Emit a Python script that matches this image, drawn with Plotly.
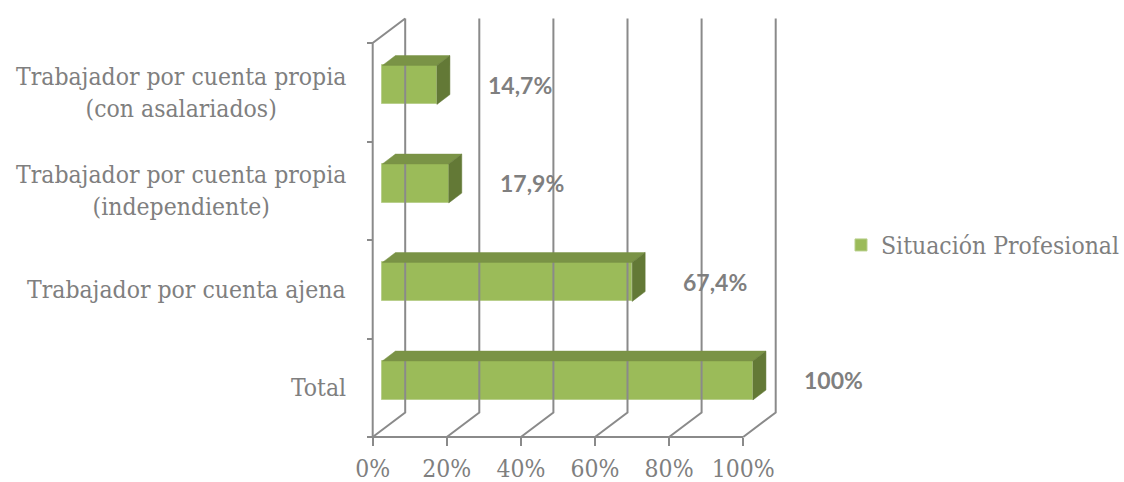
import plotly.graph_objects as go

# ---- data ----
categories = ["Total", "Trabajador por cuenta ajena",
              "Trabajador por cuenta propia<br>(independiente)",
              "Trabajador por cuenta propia<br>(con asalariados)"]
values = [100.0, 67.4, 17.9, 14.7]
value_labels = ["100%", "67,4%", "17,9%", "14,7%"]
series_name = "Situación Profesional"
x_ticks = [0, 20, 40, 60, 80, 100]
x_tick_labels = ["0%", "20%", "40%", "60%", "80%", "100%"]

# ---- geometry (pixel calibration of the pseudo-3D frame) ----
W, H = 1124, 482
X0, SX = 372.7, 3.705          # px of 0 %, px per %
YF, BAND = 437.0, 98.5         # px of front floor, px per category band
DX = 32.5 / SX                 # depth offset in x (data units)
DY = 24.5 / BAND               # depth offset in y (data units)
F1, F2 = 0.30, 0.70            # bar front / back depth fraction
HALF = 19.5 / BAND             # half bar height

xmin, xmax = -X0 / SX, (W - X0) / SX
ymin, ymax = (YF - H) / BAND - 0.5, YF / BAND - 0.5

GRID = "#8a8a8a"
TXT = "#7f7f7f"
FRONT, TOP, SIDE = "#9BBB59", "#7A9346", "#637936"
SERIF = "DejaVu Serif Condensed"
FS = 24.5

fig = go.Figure()

# walls / gridlines
gx, gy = [], []
y_floor = -0.5
y_top = len(categories) - 0.5
for v in x_ticks:
    gx += [v, v + DX, v + DX, None]
    gy += [y_floor, y_floor + DY, y_top + DY, None]
gx += [0, 100, None, 0, 0, DX, None]
gy += [y_floor, y_floor, None, y_floor, y_top, y_top + DY, None]
fig.add_trace(go.Scatter(x=gx, y=gy, mode="lines",
                         line=dict(color=GRID, width=2),
                         hoverinfo="skip", showlegend=False))

# bar top and side faces (derived from values)
d = F2 - F1
for i, v in enumerate(values):
    yc = i + F1 * DY
    yt, yb = yc + HALF, yc - HALF
    x1, x2 = F1 * DX, v + F1 * DX
    fig.add_trace(go.Scatter(
        x=[x1, x2, x2 + d * DX, x1 + d * DX, x1],
        y=[yt, yt, yt + d * DY, yt + d * DY, yt],
        fill="toself", fillcolor=TOP, mode="lines",
        line=dict(color=TOP, width=0.5), hoverinfo="skip", showlegend=False))
    fig.add_trace(go.Scatter(
        x=[x2, x2 + d * DX, x2 + d * DX, x2, x2],
        y=[yb, yb + d * DY, yt + d * DY, yt, yb],
        fill="toself", fillcolor=SIDE, mode="lines",
        line=dict(color=SIDE, width=0.5), hoverinfo="skip", showlegend=False))

# bar front faces
fig.add_trace(go.Bar(
    name=series_name, orientation="h",
    y=[i + F1 * DY for i in range(len(values))],
    x=values, base=F1 * DX, width=2 * HALF,
    marker=dict(color=FRONT, line=dict(color="#B9CF8C", width=1)),
    hoverinfo="skip", showlegend=True))

# data labels
for i, (v, lab) in enumerate(zip(values, value_labels)):
    fig.add_annotation(x=v + F1 * DX + 49 / SX, y=i + F1 * DY, text=lab,
                       xref="x", yref="y", xanchor="left", yanchor="middle",
                       showarrow=False,
                       font=dict(family="Lato", size=23, color=TXT, weight="bold"))

# category labels
for i, c in enumerate(categories):
    fig.add_annotation(x=348 / W, xref="paper", y=i, yref="y", text=c,
                       xanchor="right", yanchor="middle", align="center",
                       showarrow=False,
                       font=dict(family=SERIF, size=FS, color=TXT))

fig.update_layout(
    width=W, height=H, margin=dict(l=0, r=0, t=0, b=0, autoexpand=False),
    paper_bgcolor="white", plot_bgcolor="white",
    bargap=0, barmode="overlay",
    xaxis=dict(range=[xmin, xmax], domain=[0, 1], anchor="free",
               position=1 - YF / H, tickvals=x_ticks, ticktext=x_tick_labels,
               ticks="outside", ticklen=8, tickwidth=2, tickcolor=GRID,
               ticklabelstandoff=2, automargin=False,
               showgrid=False, zeroline=False, showline=False,
               tickfont=dict(family=SERIF, size=FS, color=TXT),
               fixedrange=True),
    yaxis=dict(range=[ymin, ymax], domain=[0, 1], anchor="free",
               position=X0 / W, automargin=False,
               tickvals=[k - 0.5 for k in range(len(categories) + 1)],
               ticks="outside", ticklen=6, tickwidth=2, tickcolor=GRID,
               showticklabels=False, showgrid=False, zeroline=False,
               showline=False, fixedrange=True),
    legend=dict(x=841 / W, xanchor="left", y=1 - 245 / H, yanchor="middle",
                font=dict(family=SERIF, size=FS, color=TXT),
                bgcolor="rgba(0,0,0,0)"),
    showlegend=True,
)

fig.write_html("out.html", config={"displayModeBar": False})
